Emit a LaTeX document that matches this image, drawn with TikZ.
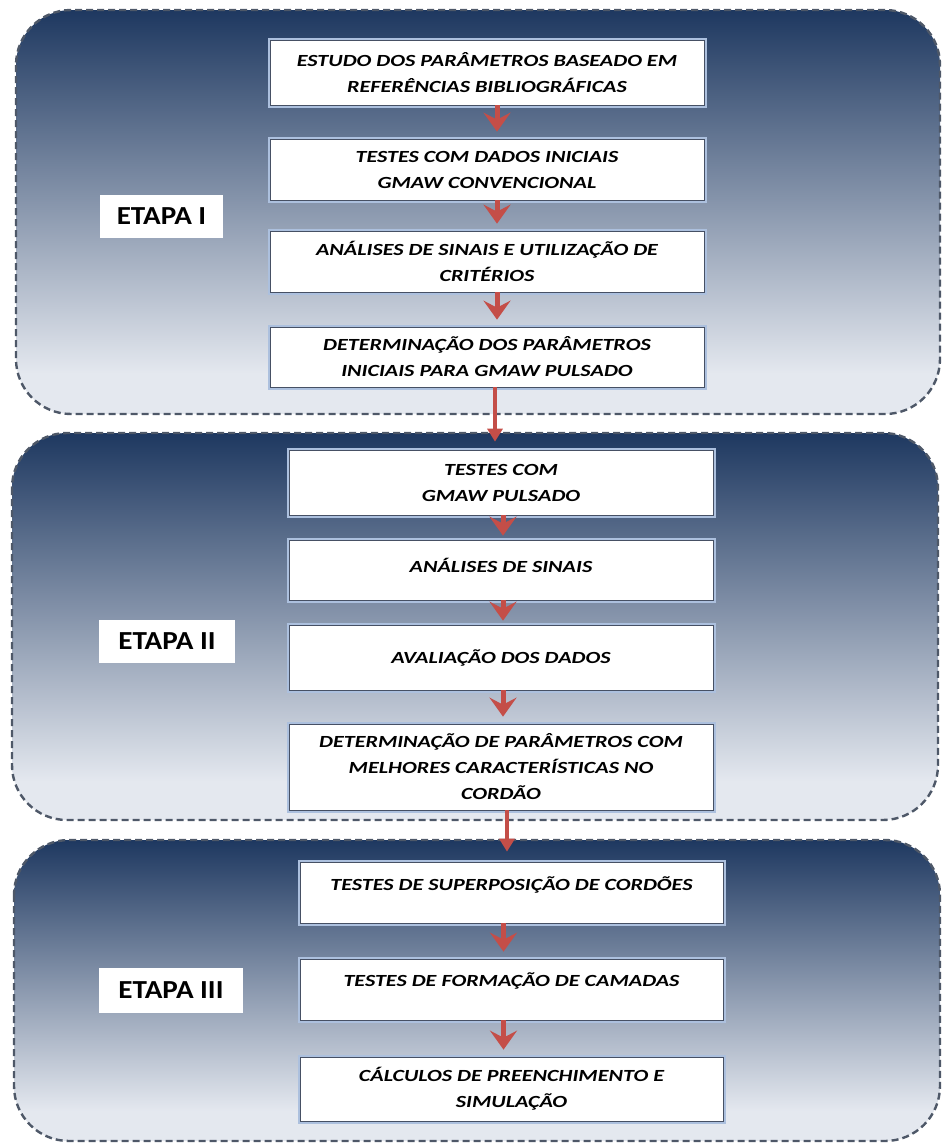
\documentclass[tikz,border=0pt]{standalone}
\usepackage{fontspec}
\usetikzlibrary{arrows.meta}

\newfontfamily\stepfont{Carlito}[FakeStretch=1.3]
\newfontfamily\etapafont{Carlito}[FakeStretch=1.12]

\definecolor{paneldark}{RGB}{30,56,96}
\definecolor{panellight}{RGB}{228,232,239}
\definecolor{paneledge}{RGB}{78,88,104}
\definecolor{boxhalo}{RGB}{172,192,222}
\definecolor{boxline}{RGB}{70,80,100}
\definecolor{flowred}{RGB}{196,78,72}

\pgfdeclareverticalshading{etapashade}{100bp}{color(0bp)=(panellight); color(25bp)=(panellight); color(30bp)=(panellight); color(75bp)=(paneldark); color(100bp)=(paneldark)}

\tikzset{
  etapapanel/.style={shade, shading=etapashade, draw=paneledge, line width=2.4pt,
    dash pattern=on 7pt off 4pt, rounded corners=55pt},
  stepbox/.style={fill=white, draw=boxline, line width=0.7pt,
    preaction={draw=boxhalo, line width=5pt},
    font=\stepfont\bfseries\itshape\fontsize{17}{26}\selectfont,
    align=center, inner sep=0pt},
  etapalabel/.style={fill=white, inner sep=0pt,
    font=\etapafont\bfseries\fontsize{26}{30}\selectfont},
  chevron/.style={draw=flowred, line width=5pt, -{Stealth[width=27pt,length=19pt,inset=7pt]}},
  panelflow/.style={draw=flowred, line width=3.5pt, -{Triangle[width=15pt,length=13pt]}}
}

\begin{document}
\begin{tikzpicture}[x=1pt, y=-1pt]
  \useasboundingbox (0,0) rectangle (942,1143);

  % Panels
  \path[etapapanel] (16,10) rectangle (940,414);
  \path[etapapanel] (12,433) rectangle (938,820);
  \path[etapapanel] (14,840) rectangle (940,1141);

  % Etapa I
  \node[etapalabel, minimum width=123pt, minimum height=43pt] (e1) at (161.5,216.5) {ETAPA I};
  \node[stepbox, minimum width=434pt, minimum height=65pt] (b1) at (487,72.5)
    {ESTUDO DOS PARÂMETROS BASEADO EM\\REFERÊNCIAS BIBLIOGRÁFICAS};
  \node[stepbox, minimum width=434pt, minimum height=61pt] (b2) at (487,169.5)
    {TESTES COM DADOS INICIAIS\\GMAW CONVENCIONAL};
  \node[stepbox, minimum width=434pt, minimum height=61pt] (b3) at (487,261.5)
    {ANÁLISES DE SINAIS E UTILIZAÇÃO DE\\CRITÉRIOS};
  \node[stepbox, minimum width=434pt, minimum height=60pt] (b4) at (487,357)
    {DETERMINAÇÃO DOS PARÂMETROS\\INICIAIS PARA GMAW PULSADO};

  % Etapa II
  \node[etapalabel, minimum width=136pt, minimum height=43pt] (e2) at (167,641.5) {ETAPA II};
  \node[stepbox, minimum width=424pt, minimum height=65pt] (b5) at (501,482.5)
    {TESTES COM\\GMAW PULSADO};
  \node[stepbox, minimum width=424pt, minimum height=60pt] (b6) at (501,570)
    {\raisebox{10pt}{ANÁLISES DE SINAIS}};
  \node[stepbox, minimum width=424pt, minimum height=65pt] (b7) at (501,657.5)
    {AVALIAÇÃO DOS DADOS};
  \node[stepbox, minimum width=424pt, minimum height=86pt] (b8) at (501,767)
    {DETERMINAÇÃO DE PARÂMETROS COM\\MELHORES CARACTERÍSTICAS NO\\CORDÃO};

  % Etapa III
  \node[etapalabel, minimum width=144pt, minimum height=45pt] (e3) at (171,990.5) {ETAPA III};
  \node[stepbox, minimum width=423pt, minimum height=61pt] (b9) at (511.5,892.5)
    {\raisebox{18pt}{TESTES DE SUPERPOSIÇÃO DE CORDÕES}};
  \node[stepbox, minimum width=423pt, minimum height=61pt] (b10) at (511.5,989.5)
    {\raisebox{20pt}{TESTES DE FORMAÇÃO DE CAMADAS}};
  \node[stepbox, minimum width=423pt, minimum height=64pt] (b11) at (511.5,1089)
    {CÁLCULOS DE PREENCHIMENTO E\\SIMULAÇÃO};

  % Arrows
  \draw[chevron] ([xshift=10pt]b1.south) -- ([xshift=10pt,yshift=7pt]b2.north);
  \draw[chevron] ([xshift=10pt]b2.south) -- ([xshift=10pt,yshift=7pt]b3.north);
  \draw[chevron] ([xshift=10pt]b3.south) -- ([xshift=10pt,yshift=7pt]b4.north);
  \draw[panelflow] ([xshift=8pt]b4.south) -- ([xshift=-6pt,yshift=8pt]b5.north);
  \draw[chevron] ([xshift=2pt]b5.south) -- ([xshift=2pt,yshift=4pt]b6.north);
  \draw[chevron] ([xshift=2pt]b6.south) -- ([xshift=2pt,yshift=4pt]b7.north);
  \draw[chevron] ([xshift=2pt]b7.south) -- ([xshift=2pt,yshift=7pt]b8.north);
  \draw[panelflow] ([xshift=6pt]b8.south) -- ([xshift=-4.5pt,yshift=10pt]b9.north);
  \draw[chevron] ([xshift=-8pt]b9.south) -- ([xshift=-8pt,yshift=7pt]b10.north);
  \draw[chevron] ([xshift=-8pt]b10.south) -- ([xshift=-8pt,yshift=7pt]b11.north);
\end{tikzpicture}
\end{document}
